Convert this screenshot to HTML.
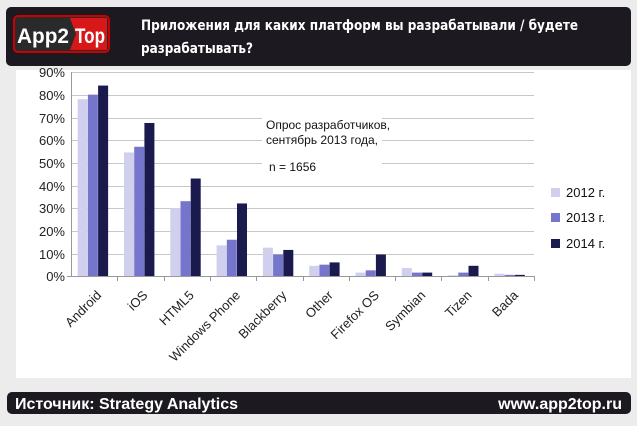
<!DOCTYPE html>
<html><head><meta charset="utf-8"><style>
body{margin:0;background:#ececec;width:637px;height:421px;overflow:hidden;font-family:"Liberation Sans",sans-serif}
</style></head><body>
<svg width="637" height="421" xmlns="http://www.w3.org/2000/svg" font-family="Liberation Sans, sans-serif">
<rect width="637" height="421" fill="#ececec"/>
<rect x="6" y="7" width="625" height="59" rx="5" fill="#1c1a20"/>
<rect x="14" y="16" width="95" height="36" rx="4" fill="#2a2a2a" stroke="#c00" stroke-width="2"/>
<polygon points="70,18 107,18 107,50 70,50 76,34" fill="#d81818"/>
<text x="17" y="43" font-size="21" fill="#fff" font-weight="bold" textLength="52" lengthAdjust="spacingAndGlyphs">App2</text>
<text x="75" y="43" font-size="21" fill="#fff" font-weight="bold" textLength="30" lengthAdjust="spacingAndGlyphs">Top</text>
<text x="141" y="30" font-size="14" font-weight="bold" fill="#fff" font-family="DejaVu Sans, sans-serif" textLength="437" lengthAdjust="spacingAndGlyphs">Приложения для каких платформ вы разрабатывали / будете</text>
<text x="141" y="53" font-size="14" font-weight="bold" fill="#fff" font-family="DejaVu Sans, sans-serif" textLength="112" lengthAdjust="spacingAndGlyphs">разрабатывать?</text>
<rect x="16" y="70" width="615" height="308" fill="#fff"/>
<g stroke="#c8c8c8" stroke-width="1">
<line x1="71" y1="72.5" x2="534" y2="72.5"/><line x1="71" y1="95.5" x2="534" y2="95.5"/><line x1="71" y1="118.5" x2="534" y2="118.5"/><line x1="71" y1="140.5" x2="534" y2="140.5"/><line x1="71" y1="163.5" x2="534" y2="163.5"/><line x1="71" y1="186.5" x2="534" y2="186.5"/><line x1="71" y1="208.5" x2="534" y2="208.5"/><line x1="71" y1="231.5" x2="534" y2="231.5"/><line x1="71" y1="254.5" x2="534" y2="254.5"/>
</g>
<g font-size="13" fill="#222" text-anchor="end">
<text x="65" y="77">90%</text><text x="65" y="100">80%</text><text x="65" y="123">70%</text><text x="65" y="145">60%</text><text x="65" y="168">50%</text><text x="65" y="191">40%</text><text x="65" y="213">30%</text><text x="65" y="236">20%</text><text x="65" y="259">10%</text><text x="65" y="281">0%</text>
</g>
<rect x="262" y="114" width="120" height="62" fill="#fff"/>
<g font-size="12" fill="#111">
<text x="266" y="129">Опрос разработчиков,</text>
<text x="266" y="144">сентябрь 2013 года,</text>
<text x="269" y="171">n = 1656</text>
</g>
<g id="bars"></g>
<g stroke="#999" stroke-width="1">
<line x1="71.5" y1="72" x2="71.5" y2="276"/>
<line x1="67" y1="276.5" x2="534" y2="276.5"/>
</g>
<g id="ticks" stroke="#999"></g>
<g id="labels" font-size="13" fill="#222"></g>
<rect x="551" y="188" width="9" height="9" fill="#d0d0ee"/><text x="566" y="197" font-size="13" fill="#111">2012 г.</text>
<rect x="551" y="213" width="9" height="9" fill="#7575cc"/><text x="566" y="222" font-size="13" fill="#111">2013 г.</text>
<rect x="551" y="239" width="9" height="9" fill="#1a1a4e"/><text x="566" y="248" font-size="13" fill="#111">2014 г.</text>
<rect x="7" y="392" width="624" height="22" rx="5" fill="#1c1a20"/>
<text x="15" y="409" font-size="16" font-weight="bold" fill="#fff">Источник: Strategy Analytics</text>
<text x="622" y="409" font-size="16" font-weight="bold" fill="#fff" text-anchor="end">www.app2top.ru</text>
</svg>
<script>
var d=[["Android",78,80,84],["iOS",54.5,57,67.5],["HTML5",30,33,43],["Windows Phone",13.5,16,32],["Blackberry",12.5,9.5,11.5],["Other",4.5,5,6],["Firefox OS",1.5,2.5,9.5],["Symbian",3.5,1.5,1.5],["Tizen",0.3,1.5,4.5],["Bada",1,0.5,0.5]];
var c=["#d0d0ee","#7575cc","#1a1a4e"],ns="http://www.w3.org/2000/svg";
var B=document.getElementById("bars"),T=document.getElementById("ticks"),L=document.getElementById("labels");
var w=46.3;
d.forEach(function(r,i){var x0=71+i*w;
for(var k=0;k<3;k++){var h=r[k+1]*2.267;var e=document.createElementNS(ns,"rect");
e.setAttribute("x",x0+6.7+k*10.2);e.setAttribute("y",276-h);e.setAttribute("width",10);e.setAttribute("height",h);e.setAttribute("fill",c[k]);B.appendChild(e);}
var t=document.createElementNS(ns,"line");var tx=Math.round(x0+w)+.5;t.setAttribute("x1",tx);t.setAttribute("x2",tx);t.setAttribute("y1",276);t.setAttribute("y2",281);T.appendChild(t);
var cx=x0+w/2+8,cy=296;var s=document.createElementNS(ns,"text");s.setAttribute("x",cx);s.setAttribute("y",cy);s.setAttribute("text-anchor","end");s.setAttribute("transform","rotate(-45 "+cx+" "+cy+")");s.textContent=r[0];L.appendChild(s);});
</script>
</body></html>
